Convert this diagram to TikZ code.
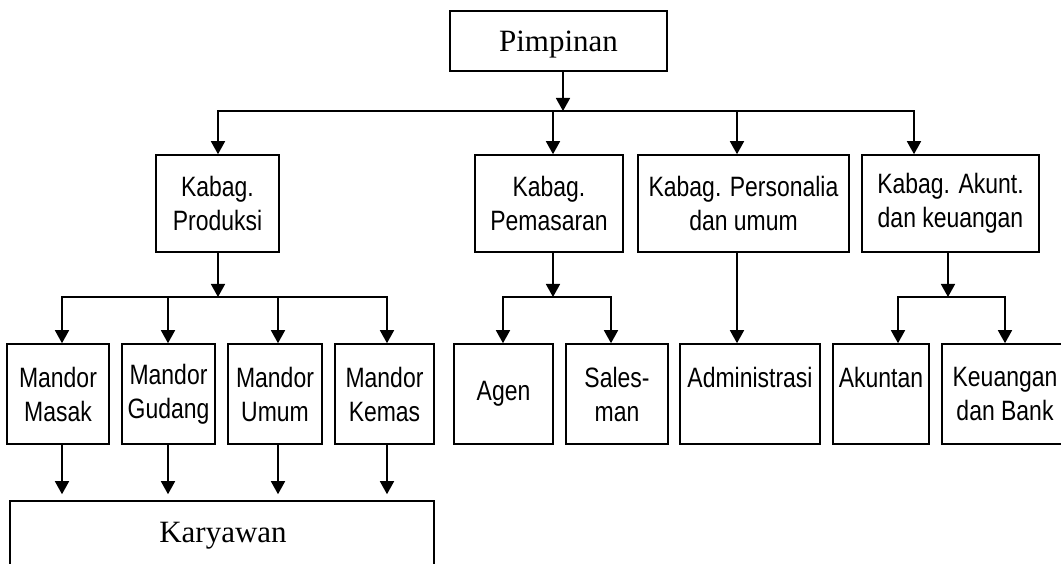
\documentclass[tikz,border=0pt]{standalone}
\usepackage{fontspec}
\newfontfamily\narrowfont[FakeStretch=0.82]{Liberation Sans}
\newfontfamily\timesfont{Liberation Serif}
\usetikzlibrary{arrows.meta}
\begin{document}
\begin{tikzpicture}[x=1pt,y=-1pt,
  box/.style={draw, line width=1.6pt, inner sep=0pt, align=center,
    font=\narrowfont\fontsize{28}{34}\selectfont},
  row2/.style={box, minimum height=97pt},
  row3/.style={box, minimum height=100pt},
  ln/.style={line width=1.6pt},
  arr/.style={line width=1.6pt, -{Triangle[width=14pt,length=13pt]}},
  serifbig/.style={font=\timesfont\fontsize{31}{36}\selectfont}]
\fill[white] (0,0) rectangle (1061,564);
\useasboundingbox (0,0) rectangle (1061,564);

% top
\node[box, serifbig, minimum width=217pt, minimum height=60pt, text depth=0pt] (pim) at (558.5,41) {Pimpinan};

% row 2
\node[row2, minimum width=123pt] (prod) at (217.5,203.5) {Kabag.\\Produksi};
\node[row2, minimum width=148pt] (pem) at (549,203.5) {Kabag.\\Pemasaran};
\node[row2, minimum width=211pt] (pers) at (743.5,203.5) {Kabag. Personalia\\dan umum};
\node[row2, minimum width=177pt] (akt) at (950.5,203.5) {Kabag. Akunt.\\dan keuangan};

% row 3
\node[row3, minimum width=102pt] (masak) at (58,394) {Mandor\\Masak};
\node[row3, minimum width=93pt] (gudang) at (168.5,394) {Mandor\\Gudang};
\node[row3, minimum width=94pt] (umum) at (275,394) {Mandor\\Umum};
\node[row3, minimum width=99pt] (kemas) at (384.5,394) {Mandor\\Kemas};
\node[row3, minimum width=99pt] (agen) at (503.5,394) {Agen};
\node[row3, minimum width=102pt] (sales) at (617,394) {Sales-\\man};
\node[row3, minimum width=140pt] (admin) at (750,394) {Administrasi\\\mbox{}};
\node[row3, minimum width=96pt] (akuntan) at (881,394) {Akuntan\\\mbox{}};
\node[row3, minimum width=126pt] (keu) at (1005,394) {Keuangan\\dan Bank};

% Karyawan
\node[draw, line width=1.6pt, inner sep=0pt, minimum width=424pt, minimum height=120pt] (kary) at (222,561) {};
\node[serifbig, anchor=base, inner sep=0pt] (karyt) at (223,542) {Karyawan};

% top bus
\coordinate (t0) at (563,111);
\coordinate (t1) at (218,111);
\coordinate (t2) at (553,111);
\coordinate (t3) at (737,111);
\coordinate (t4) at (914,111);
\draw[arr] (pim.south -| t0) -- (t0);
\draw[arr] (t0) -- (t1) -- (t1 |- prod.north);
\draw[arr] (t0) -- (t4) -- (t4 |- akt.north);
\draw[arr] (t2) -- (t2 |- pem.north);
\draw[arr] (t3) -- (t3 |- pers.north);

% produksi bus
\coordinate (u0) at (218,297);
\coordinate (m1) at (62,297);
\coordinate (m2) at (168,297);
\coordinate (m3) at (278,297);
\coordinate (m4) at (387,297);
\draw[arr] (prod.south -| u0) -- (u0);
\draw[arr] (u0) -- (m1) -- (m1 |- masak.north);
\draw[arr] (u0) -- (m4) -- (m4 |- kemas.north);
\draw[arr] (m2) -- (m2 |- gudang.north);
\draw[arr] (m3) -- (m3 |- umum.north);

% pemasaran bus
\coordinate (p0) at (553,297);
\coordinate (p1) at (503,297);
\coordinate (p2) at (611,297);
\draw[arr] (pem.south -| p0) -- (p0);
\draw[arr] (p0) -- (p1) -- (p1 |- agen.north);
\draw[arr] (p0) -- (p2) -- (p2 |- sales.north);

% personalia
\draw[arr] (pers.south -| t3) -- (t3 |- admin.north);

% akuntansi bus
\coordinate (a0) at (948,297);
\coordinate (a1) at (898,297);
\coordinate (a2) at (1005,297);
\draw[arr] (akt.south -| a0) -- (a0);
\draw[arr] (a0) -- (a1) -- (a1 |- akuntan.north);
\draw[arr] (a0) -- (a2) -- (a2 |- keu.north);

% mandor to karyawan
\draw[arr, shorten >=6pt] (masak.south -| m1) -- (m1 |- kary.north);
\draw[arr, shorten >=6pt] (gudang.south -| m2) -- (m2 |- kary.north);
\draw[arr, shorten >=6pt] (umum.south -| m3) -- (m3 |- kary.north);
\draw[arr, shorten >=6pt] (kemas.south -| m4) -- (m4 |- kary.north);
\end{tikzpicture}
\end{document}
